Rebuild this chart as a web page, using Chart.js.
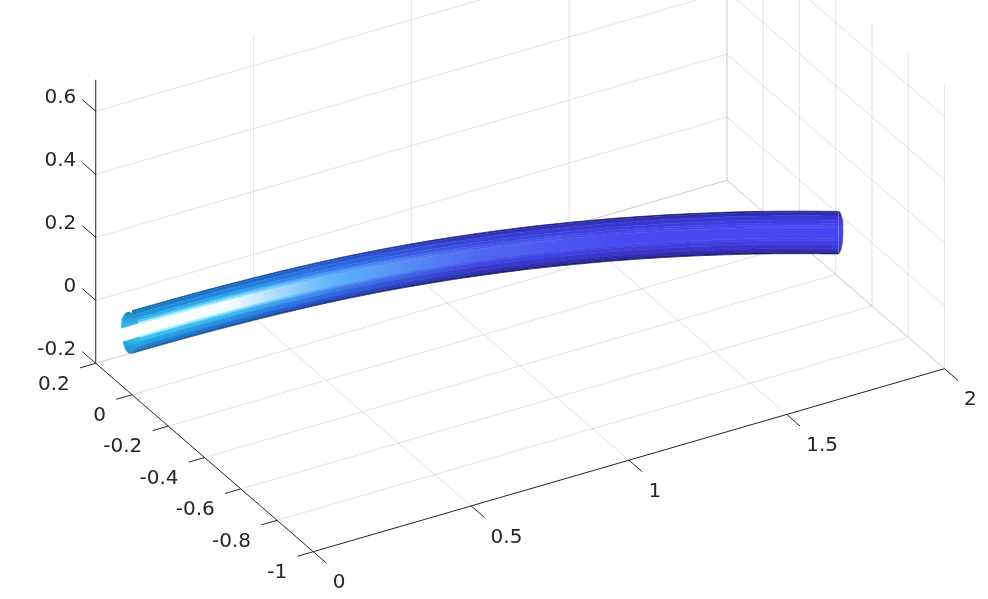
<!DOCTYPE html>
<html>
<head>
<meta charset="utf-8">
<title>Tube</title>
<script src="https://cdn.jsdelivr.net/npm/chart.js@4"></script>
<style>
  html, body { margin: 0; padding: 0; background: #fff; }
  canvas { display: block; }
</style>
</head>
<body>
<canvas id="myChart" width="988" height="599"></canvas>
<script>
// axis ticks
const xTicks = [0, 0.5, 1, 1.5, 2];
const yTicks = [0.2, 0, -0.2, -0.4, -0.6, -0.8, -1];
const zTicks = [-0.2, 0, 0.2, 0.4, 0.6];
const xTickLabels = ['0', '0.5', '1', '1.5', '2'];
const yTickLabels = ['0.2', '0', '-0.2', '-0.4', '-0.6', '-0.8', '-1'];
const zTickLabels = ['-0.2', '0', '0.2', '0.4', '0.6'];
const xLimits = [0, 2];
const yLimits = [-1, 0.2];
const zLimits = [-0.2, 0.7];

// tube centre line
const tubeX = [0, 0.1, 0.2, 0.3, 0.4, 0.5, 0.6, 0.7, 0.8, 0.9, 1, 1.1, 1.2, 1.3, 1.4, 1.5, 1.6, 1.7, 1.8, 1.9];
const tubeY = [0, -0.0016, -0.0065, -0.0147, -0.0261, -0.0408, -0.0587, -0.0799, -0.1043, -0.132, -0.163, -0.197, -0.2347, -0.2755, -0.3195, -0.3668, -0.4173, -0.471, -0.5281, -0.5884];
const tubeZ = [-0.001, -0.0005, 0.0012, 0.004, 0.0078, 0.0122, 0.017, 0.0218, 0.0264, 0.0308, 0.035, 0.039, 0.0427, 0.046, 0.0489, 0.0514, 0.0534, 0.0548, 0.0556, 0.0557];
const tubeRadius = 0.0675;

// facets of the tube, top to bottom, as fractions of the radius
const bandEdges = [-1, -0.94, -0.78, -0.58, -0.44, -0.34, -0.24, 0.28, 0.38, 0.56, 0.76, 0.93, 1];
// colour of each facet at each of the shadeX stations
const shadeX = [0, 0.3, 0.6, 1, 1.4, 1.9];
const bandShades = [
  ['#0d5a90', '#125090', '#1a3c98', '#1f2080', '#1e1c78', '#1c1c70'],
  ['#1a80c4', '#1d70c8', '#2858d0', '#3232b8', '#3030b4', '#2e2cb0'],
  ['#2096dc', '#2484e0', '#2c68e0', '#3840d4', '#3838d0', '#3a38d4'],
  ['#30aee8', '#2ea0ec', '#3278ea', '#3c48e0', '#3c3cdc', '#3e3ce0'],
  ['#55ccf4', '#50c4f6', '#4a90f2', '#4252e8', '#4040e4', '#4040e8'],
  ['#b8f4ff', '#8ce8ff', '#54a4f8', '#4a5cee', '#4444ea', '#4444ec'],
  ['#ffffff', '#f4fdff', '#5cb4fb', '#5068f0', '#4848ee', '#4646f0'],
  ['#b0f2ff', '#80e4ff', '#50a0f6', '#4a58ec', '#4444ea', '#4444ec'],
  ['#3cc0ee', '#40b8f0', '#3c80ec', '#4048e4', '#3e3ee0', '#4040e6'],
  ['#28a4e2', '#2890e4', '#2e68e0', '#3838d0', '#3836cc', '#3a38d4'],
  ['#1f86ce', '#2070d0', '#2850c8', '#2e30b4', '#2e2cb0', '#3230b8'],
  ['#1a64a8', '#1a50a0', '#1c3490', '#1f1f78', '#1e1c74', '#20207a']
];
// open end of the tube, seen from inside
const capUpperEdges = [-1, -0.98, -0.94, -0.86, -0.78, -0.68, -0.58, -0.44, -0.32];
const capLowerEdges = [0.32, 0.44, 0.58, 0.68, 0.78, 0.86, 0.94, 0.98, 1];
const capUpperShades = ['#1a80b8', '#38b8ec'];
const capLowerShades = ['#38b8ec', '#2088c4'];
const capMouth = ['#ffffff'];

// view of the 3D box on the flat chart
function project(x, y, z) {
  return {
    x: 132 + 315.6 * x - 181.3 * y,
    y: 331.7 - 91.5 * x - 157 * y - 315 * z
  };
}

const GRID = 'rgba(38,38,38,0.13)';
const AXIS = '#262626';
const datasets = [];
let drawOrder = 1000;

function addLine(a, b, color) {
  datasets.push({
    data: [project(a[0], a[1], a[2]), project(b[0], b[1], b[2])],
    borderColor: color,
    borderWidth: 1,
    pointRadius: 0,
    order: drawOrder--
  });
}

// floor, back wall and right wall grid
yTicks.forEach(function(y) {
  if (y !== yLimits[0]) addLine([xLimits[0], y, zLimits[0]], [xLimits[1], y, zLimits[0]], GRID);
  addLine([xLimits[1], y, zLimits[0]], [xLimits[1], y, zLimits[1]], GRID);
});
xTicks.forEach(function(x) {
  if (x !== xLimits[0]) {
    addLine([x, yLimits[0], zLimits[0]], [x, yLimits[1], zLimits[0]], GRID);
    addLine([x, yLimits[1], zLimits[0]], [x, yLimits[1], zLimits[1]], GRID);
  }
});
zTicks.forEach(function(z) {
  addLine([xLimits[0], yLimits[1], z], [xLimits[1], yLimits[1], z], GRID);
  addLine([xLimits[1], yLimits[1], z], [xLimits[1], yLimits[0], z], GRID);
});

// tube, one outline per facet edge, each filled down to the next one
const canvas = document.getElementById('myChart');
const ctx = canvas.getContext('2d');
const lastStation = tubeX.length - 1;
const startBulge = 0.03;
const seamBulge = 0.026;
const startTilt = 0.014;
const endBulge = 0.015;
const capSeam = 140;

function bandGradient(i) {
  const left = 115;
  const right = 850;
  const grad = ctx.createLinearGradient(left, 0, right, 0);
  const seam = (capSeam - left) / (right - left);
  const inner = i >= 5 && i <= 7 ? capMouth[0] : bandShades[i][0];
  grad.addColorStop(0, inner);
  grad.addColorStop(seam, inner);
  bandShades[i].forEach(function(c, k) {
    const sx = project(shadeX[k], shadeX[k] * shadeX[k] * -0.163, 0).x;
    grad.addColorStop(k === 0 ? seam + 0.002 : (sx - left) / (right - left), c);
  });
  return grad;
}

bandEdges.forEach(function(edge, i) {
  const points = tubeX.map(function(x, k) {
    return project(x, tubeY[k], tubeZ[k] - edge * tubeRadius);
  });
  const isLast = i === bandEdges.length - 1;
  const grad = bandGradient(isLast ? i - 1 : i);
  datasets.push({
    data: points,
    borderColor: grad,
    backgroundColor: grad,
    borderWidth: 0.8,
    tension: 0.4,
    fill: isLast ? false : '+1',
    pointRadius: 0,
    order: drawOrder--
  });
});

function addShape(points, fillColor) {
  datasets.push({
    data: points,
    borderColor: fillColor,
    backgroundColor: fillColor,
    borderWidth: 0.5,
    fill: 'shape',
    tension: 0,
    pointRadius: 0,
    order: drawOrder--
  });
}

// left end, a ring above and below the bright stripe
function capPoints(edges) {
  const outer = edges.map(function(e) {
    const tilt = e < 0 ? startTilt * e : 0;
    return project(tubeX[0] - startBulge * Math.sqrt(1 - e * e) + tilt, tubeY[0], tubeZ[0] - e * tubeRadius);
  });
  const seam = edges.slice().reverse().map(function(e) {
    const tilt = e < 0 ? startTilt * e : 0;
    return project(tubeX[0] + seamBulge * Math.sqrt(1 - e * e) + tilt, tubeY[0], tubeZ[0] - e * tubeRadius);
  });
  return outer.concat(seam);
}
function capGradient(edges, shades) {
  const y0 = project(0, 0, tubeZ[0] - edges[0] * tubeRadius).y;
  const y1 = project(0, 0, tubeZ[0] - edges[edges.length - 1] * tubeRadius).y;
  const grad = ctx.createLinearGradient(0, y0, 0, y1);
  grad.addColorStop(0, shades[0]);
  grad.addColorStop(1, shades[1]);
  return grad;
}
addShape(capPoints(capUpperEdges), capGradient(capUpperEdges, capUpperShades));
addShape(capPoints(capLowerEdges), capGradient(capLowerEdges, capLowerShades));

// right end, a small dome past the last station
const domeEdges = [-1, -0.94, -0.78, -0.58, -0.3, 0, 0.3, 0.58, 0.78, 0.94, 1];
const domePoints = domeEdges.map(function(e) {
  return project(tubeX[lastStation] + endBulge * Math.sqrt(1 - e * e), tubeY[lastStation], tubeZ[lastStation] - e * tubeRadius);
});
const domeTop = domePoints[0].y;
const domeBottom = domePoints[domePoints.length - 1].y;
const domeGrad = ctx.createLinearGradient(0, domeTop, 0, domeBottom);
bandShades.forEach(function(shades, i) {
  domeGrad.addColorStop((bandEdges[i] + bandEdges[i + 1] + 2) / 4, shades[shades.length - 1]);
});
addShape(domePoints, domeGrad);

// box edges and tick marks
addLine([xLimits[0], yLimits[0], zLimits[0]], [xLimits[1], yLimits[0], zLimits[0]], AXIS);
addLine([xLimits[0], yLimits[0], zLimits[0]], [xLimits[0], yLimits[1], zLimits[0]], AXIS);
addLine([xLimits[0], yLimits[1], zLimits[0]], [xLimits[0], yLimits[1], zLimits[1]], AXIS);
xTicks.forEach(function(x) {
  addLine([x, yLimits[0], zLimits[0]], [x, yLimits[0] - 0.074, zLimits[0]], AXIS);
});
yTicks.forEach(function(y) {
  addLine([xLimits[0], y, zLimits[0]], [xLimits[0] - 0.05, y, zLimits[0]], AXIS);
});
zTicks.forEach(function(z) {
  addLine([xLimits[0], yLimits[1], z], [xLimits[0], yLimits[1] + 0.074, z], AXIS);
});

// Chart.js has no 3D axes so the tick labels go on here
const tickText = {
  id: 'tickText',
  afterDatasetsDraw: function(chart) {
    const c = chart.ctx;
    const sx = chart.scales.x;
    const sy = chart.scales.y;
    function put(text, p, dx, dy, align) {
      c.textAlign = align;
      c.fillText(text, sx.getPixelForValue(p.x) + dx, sy.getPixelForValue(p.y) + dy);
    }
    c.save();
    c.font = '20px "DejaVu Sans"';
    c.fillStyle = AXIS;
    c.textBaseline = 'middle';
    xTicks.forEach(function(x, i) {
      put(xTickLabels[i], project(x, yLimits[0], zLimits[0]), 19.5, 31.5, 'left');
    });
    yTicks.forEach(function(y, i) {
      put(yTickLabels[i], project(xLimits[0], y, zLimits[0]), -26, 21, 'right');
    });
    zTicks.forEach(function(z, i) {
      put(zTickLabels[i], project(xLimits[0], yLimits[1], z), -19.5, -14, 'right');
    });
    c.restore();
  }
};

new Chart(ctx, {
  type: 'line',
  data: { datasets: datasets },
  options: {
    responsive: false,
    animation: false,
    events: [],
    layout: { padding: 0 },
    plugins: { legend: { display: false }, tooltip: { enabled: false } },
    scales: {
      x: { type: 'linear', min: 0, max: 988, display: false },
      y: { type: 'linear', min: 0, max: 599, reverse: true, display: false }
    }
  },
  plugins: [tickText]
});
</script>
</body>
</html>
